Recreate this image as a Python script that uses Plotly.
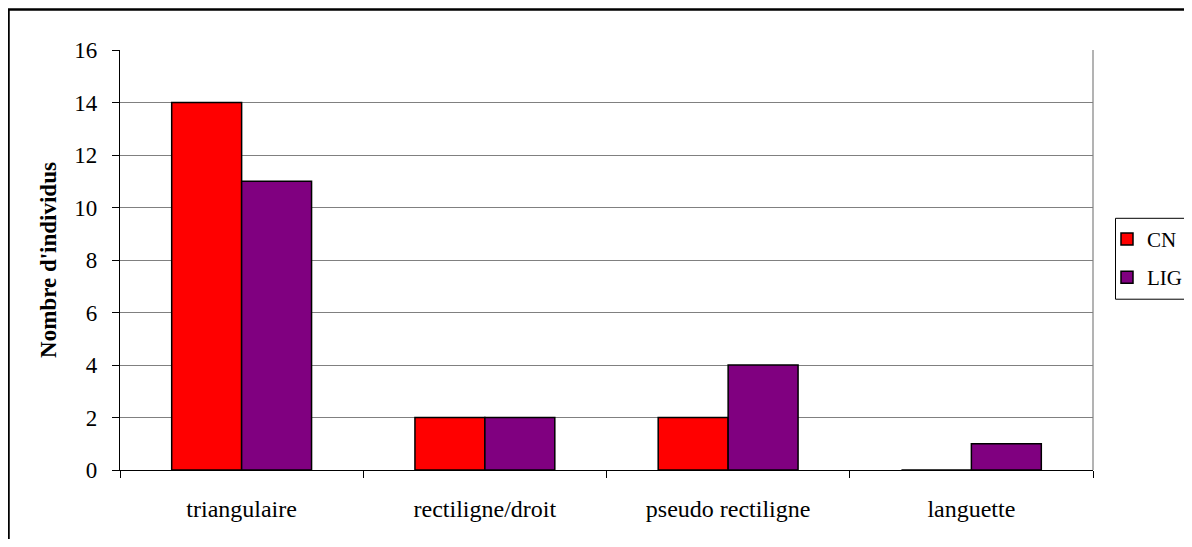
import plotly.graph_objects as go

categories = ["triangulaire", "rectiligne/droit", "pseudo rectiligne", "languette"]
cn_values = [14, 2, 2, 0]
lig_values = [11, 2, 4, 1]
series_names = ["CN", "LIG"]
y_title = "Nombre d'individus"
y_ticks = [0, 2, 4, 6, 8, 10, 12, 14, 16]

FONT = "Liberation Serif"

OFF = 8  # page body margin offset
W, H = 1192 - OFF, 547 - 2 * OFF
# plot area in screen pixels
PX0, PX1, PY0, PY1 = 120, 1093, 50, 470.5
L = PX0 - OFF
T = PY0 - OFF
R = W - (PX1 - OFF)
B = H - (PY1 - OFF)
pw = PX1 - PX0
ph = PY1 - PY0

def px_x(p):
    return (p - PX0) / pw
def px_y(p):
    return 1 - (p - PY0) / ph

fig = go.Figure()
fig.add_trace(go.Bar(x=categories, y=cn_values, name=series_names[0],
                     marker=dict(color="#FF0000", line=dict(color="black", width=1.5)),
                     legendgroup="a"))
fig.add_trace(go.Bar(x=categories, y=lig_values, name=series_names[1],
                     marker=dict(color="#800080", line=dict(color="black", width=1.5)),
                     legendgroup="b"))

# outer chart border (top and left visible)
fig.add_shape(type="rect", xref="paper", yref="paper",
              x0=px_x(8.5), x1=px_x(1200), y0=px_y(560), y1=px_y(9.5),
              line=dict(color="black", width=2.5), layer="above")
# plot area right border (gray)
fig.add_shape(type="line", xref="paper", yref="paper", x0=1, x1=1, y0=0, y1=1,
              line=dict(color="#808080", width=1.2), layer="below")
# legend frame
fig.add_shape(type="rect", xref="paper", yref="paper",
              x0=px_x(1115.5), x1=px_x(1188.5), y0=px_y(299.5), y1=px_y(218.5),
              line=dict(color="black", width=1), fillcolor="white", layer="above")

fig.update_layout(
    width=W, height=H,
    margin=dict(l=L, r=R, t=T, b=B, autoexpand=False),
    paper_bgcolor="white", plot_bgcolor="white",
    font=dict(family=FONT, size=22, color="black"),
    barmode="group", bargap=0.425, bargroupgap=0,
    showlegend=True,
    legend=dict(x=px_x(1107), y=px_y(219), xanchor="left", yanchor="top",
                borderwidth=0, bgcolor="rgba(0,0,0,0)",
                font=dict(family=FONT, size=21), tracegroupgap=8,
                itemwidth=30),
    xaxis=dict(showline=True, linecolor="black", linewidth=1.2,
               ticks="outside", tickson="boundaries", ticklen=7, tickcolor="black",
               tickwidth=1.2, ticklabelstandoff=17,
               tickfont=dict(family=FONT, size=24), showgrid=False, zeroline=False),
    yaxis=dict(range=[0, 16], tickvals=y_ticks, showline=True, linecolor="black",
               linewidth=1.2, ticks="outside", ticklen=7, tickcolor="black", tickwidth=1.2,
               ticklabelstandoff=10,
               showgrid=True, gridcolor="#808080", gridwidth=1, zeroline=False,
               tickfont=dict(family=FONT, size=23),
               title=dict(text="<b>" + y_title + "</b>", font=dict(family=FONT, size=23),
                          standoff=11)),
)

fig.write_html("out.html")
